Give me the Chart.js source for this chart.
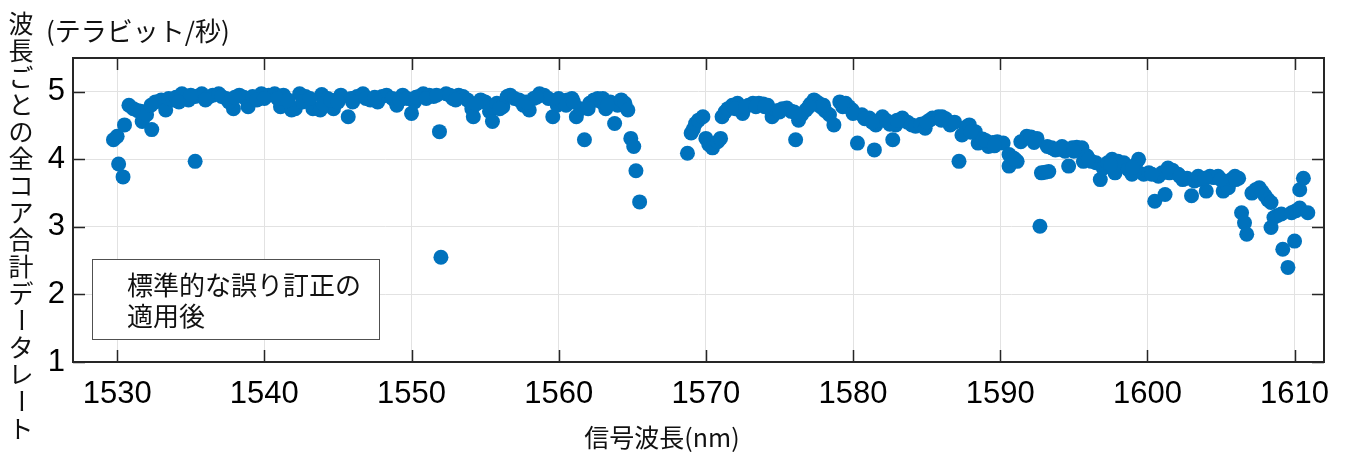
<!DOCTYPE html>
<html>
<head>
<meta charset="utf-8">
<script src="https://cdn.jsdelivr.net/npm/chart.js@4.4.1/dist/chart.umd.min.js"></script>
<style>
  html, body { margin: 0; padding: 0; background: #fff; }
  #wrap { width: 1346px; height: 453px; position: relative; }
</style>
</head>
<body>
<div id="wrap"><canvas id="rateChart"></canvas></div>
<script>
// 信号波長 (nm)
const wavelength = [
  1529.75, 1530.0, 1530.1, 1530.4, 1530.5, 1530.8, 1531.1, 1531.4, 1531.6, 1531.7,
  1532.0, 1532.35, 1532.6, 1533.0, 1533.3, 1533.5, 1533.8, 1534.0, 1534.4, 1534.85,
  1535.3, 1535.3, 1535.75, 1536.2, 1536.5, 1536.9, 1537.4, 1537.9, 1538.3, 1538.6,
  1538.9, 1539.2, 1539.8, 1540.3, 1540.7, 1541.1, 1541.3, 1541.85, 1542.1, 1542.4,
  1542.8, 1543.3, 1543.8, 1543.9, 1544.3, 1544.7, 1545.2, 1545.7, 1545.9, 1546.3,
  1546.7, 1547.2, 1547.7, 1548.0, 1548.3, 1548.7, 1549.0, 1549.4, 1550.0, 1550.2,
  1550.5, 1550.8, 1551.2, 1551.5, 1551.9, 1552.0, 1552.35, 1552.8, 1553.2, 1553.5,
  1553.8, 1554.1, 1554.2, 1554.7, 1555.0, 1555.3, 1555.5, 1555.8, 1556.2, 1556.5,
  1556.7, 1557.0, 1557.3, 1557.6, 1558.0, 1558.3, 1558.7, 1559.0, 1559.3, 1559.6,
  1559.9, 1560.3, 1560.6, 1560.9, 1561.2, 1561.5, 1561.75, 1562.1, 1562.4, 1562.65,
  1562.9, 1563.2, 1563.5, 1563.8, 1564.0, 1564.25, 1564.5, 1564.7, 1564.9, 1565.1,
  1565.25, 1565.5,
  1568.75, 1569.0, 1569.15, 1569.3, 1569.5, 1569.8, 1570.0, 1570.2, 1570.45, 1570.8,
  1571.0, 1571.1, 1571.3, 1571.5, 1571.8, 1572.15, 1572.5, 1572.9, 1573.2, 1573.6,
  1573.9, 1574.2, 1574.5, 1574.8, 1575.2, 1575.5, 1575.8, 1576.1, 1576.3, 1576.5,
  1576.8, 1577.1, 1577.35, 1577.6, 1577.8, 1578.1, 1578.4, 1578.7, 1579.1, 1579.5,
  1579.7, 1579.95, 1580.3, 1580.6, 1581.1, 1581.45, 1581.55, 1581.8, 1582.0, 1582.3,
  1582.7, 1582.9, 1583.35, 1583.7, 1584.0, 1584.25, 1584.6, 1584.9, 1585.2, 1585.4,
  1585.8, 1586.05, 1586.3, 1586.6, 1586.9, 1587.2, 1587.4, 1587.7, 1587.9, 1588.3,
  1588.5, 1588.8, 1589.2, 1589.5, 1589.8, 1590.2, 1590.6, 1590.6, 1590.9, 1591.15,
  1591.4, 1591.8, 1592.1, 1592.5, 1592.7, 1592.8, 1593.05, 1593.3, 1593.2, 1593.5,
  1593.75, 1594.2, 1594.4, 1594.65, 1594.9, 1595.2, 1595.55, 1595.65, 1595.9, 1596.2,
  1596.5, 1596.8, 1597.0, 1597.3, 1597.6, 1597.8, 1598.0, 1598.25, 1598.4, 1598.7,
  1598.95, 1599.2, 1599.4, 1599.75, 1600.1, 1600.5, 1600.75, 1601.0, 1601.2, 1601.4,
  1601.7, 1602.1, 1602.4, 1602.7, 1603.0, 1603.2, 1603.45, 1603.7, 1604.0, 1604.25,
  1604.5, 1604.8, 1605.15, 1605.5, 1605.7, 1605.95, 1606.2, 1606.4, 1606.6, 1606.75,
  1607.1, 1607.35, 1607.6, 1607.8, 1608.0, 1608.2, 1608.4, 1608.4, 1608.6, 1608.85,
  1609.1, 1609.2, 1609.55, 1609.8, 1610.0, 1610.1, 1610.35, 1610.35, 1610.6, 1610.9,
  // 帯の中の重なった点
  1532.3, 1534.2, 1535.0, 1536.0, 1537.1, 1537.6, 1538.0, 1539.5, 1540.0, 1540.9,
  1541.6, 1542.6, 1543.1, 1544.0, 1544.5, 1545.0, 1546.0, 1546.9, 1547.5, 1549.2,
  1549.7, 1550.3, 1551.0, 1551.7, 1552.6, 1553.0, 1554.4, 1556.0, 1557.8, 1558.5,
  1560.0, 1560.5, 1561.0, 1562.0, 1563.0, 1563.3,
  1572.0, 1572.7, 1573.4, 1574.0, 1575.0, 1576.0, 1577.0, 1578.0, 1579.3, 1580.0,
  1580.8, 1581.3, 1582.5, 1583.0, 1585.0, 1586.0, 1588.0, 1589.0, 1589.6, 1591.0,
  1592.3, 1594.0, 1595.0, 1596.0, 1597.5, 1599.0, 1600.3, 1601.5, 1602.2, 1603.9,
  1605.0, 1606.0
];

// 波長ごとの全コア合計データレート (テラビット/秒)
const rate = [
  4.29, 4.34, 3.93, 3.74, 4.51, 4.80, 4.75, 4.72, 4.71, 4.56,
  4.66, 4.44, 4.85, 4.88, 4.73, 4.90, 4.88, 4.92, 4.97, 4.88,
  3.97, 4.93, 4.97, 4.92, 4.95, 4.97, 4.90, 4.75, 4.95, 4.92,
  4.78, 4.93, 4.97, 4.95, 4.97, 4.78, 4.95, 4.73, 4.75, 4.97,
  4.93, 4.75, 4.73, 4.96, 4.90, 4.75, 4.95, 4.63, 4.90, 4.93,
  4.97, 4.88, 4.85, 4.93, 4.95, 4.90, 4.80, 4.95, 4.68, 4.85,
  4.93, 4.97, 4.95, 4.93, 4.41, 2.55, 4.97, 4.90, 4.95, 4.93,
  4.88, 4.75, 4.63, 4.88, 4.85, 4.71, 4.56, 4.83, 4.78, 4.93,
  4.95, 4.90, 4.88, 4.80, 4.73, 4.90, 4.97, 4.95, 4.90, 4.63,
  4.80, 4.85, 4.88, 4.90, 4.63, 4.75, 4.29, 4.83, 4.88, 4.90,
  4.85, 4.75, 4.85, 4.53, 4.80, 4.88, 4.83, 4.73, 4.31, 4.19,
  3.83, 3.37,
  4.09, 4.39, 4.45, 4.53, 4.58, 4.63, 4.31, 4.22, 4.17, 4.26,
  4.31, 4.63, 4.70, 4.75, 4.80, 4.83, 4.68, 4.80, 4.83, 4.83,
  4.82, 4.80, 4.63, 4.72, 4.75, 4.76, 4.71, 4.29, 4.58, 4.66,
  4.73, 4.82, 4.88, 4.84, 4.78, 4.72, 4.66, 4.51, 4.85, 4.83,
  4.78, 4.73, 4.24, 4.66, 4.61, 4.14, 4.51, 4.58, 4.63, 4.57,
  4.29, 4.51, 4.61, 4.55, 4.51, 4.49, 4.52, 4.46, 4.58, 4.61,
  4.63, 4.63, 4.60, 4.51, 4.55, 3.97, 4.36, 4.48, 4.51, 4.41,
  4.24, 4.30, 4.19, 4.25, 4.26, 4.24, 4.07, 3.90, 4.02, 3.97,
  4.26, 4.34, 4.33, 4.31, 3.01, 3.80, 3.81, 3.82, 4.19, 4.17,
  4.14, 4.19, 4.12, 3.90, 4.17, 4.18, 4.17, 3.97, 4.05, 3.97,
  3.95, 3.70, 3.87, 3.95, 4.00, 3.80, 3.97, 3.90, 3.95, 3.85,
  3.78, 3.92, 4.00, 3.78, 3.80, 3.38, 3.75, 3.80, 3.48, 3.87,
  3.84, 3.78, 3.70, 3.72, 3.46, 3.68, 3.75, 3.70, 3.53, 3.75,
  3.73, 3.75, 3.53, 3.58, 3.70, 3.75, 3.72, 3.21, 3.06, 2.89,
  3.50, 3.55, 3.58, 3.52, 3.46, 3.40, 3.36, 2.99, 3.14, 3.17,
  3.19, 2.67, 2.40, 3.21, 2.79, 3.24, 3.28, 3.55, 3.72, 3.21,
  // 帯の中の重なった点
  4.80, 4.85, 4.95, 4.88, 4.93, 4.85, 4.92, 4.88, 4.90, 4.90,
  4.88, 4.85, 4.90, 4.82, 4.88, 4.85, 4.85, 4.90, 4.92, 4.88,
  4.90, 4.92, 4.90, 4.95, 4.95, 4.88, 4.82, 4.75, 4.85, 4.92,
  4.90, 4.80, 4.85, 4.75, 4.90, 4.80,
  4.75, 4.78, 4.78, 4.78, 4.70, 4.70, 4.78, 4.80, 4.78, 4.68,
  4.60, 4.55, 4.52, 4.58, 4.55, 4.58, 4.40, 4.28, 4.20, 4.00,
  4.25, 4.15, 4.12, 4.00, 3.92, 3.88, 3.78, 3.80, 3.75, 3.72,
  3.70, 3.70
];

const xTicks = [1530, 1540, 1550, 1560, 1570, 1580, 1590, 1600, 1610];
const yTicks = [1, 2, 3, 4, 5];

const yTitle = '波長ごとの全コア合計データレート';
const unitLabel = '(テラビット/秒)';
const xTitle = '信号波長(nm)';
const legendLines = ['標準的な誤り訂正の', '適用後'];

const points = wavelength.map((w, i) => ({ x: w, y: rate[i] }));

const jpFont = '"Noto Sans CJK JP", "Noto Sans", sans-serif';
const numFont = '"Liberation Sans", Arial, sans-serif';

// 枠・内向き目盛り・凡例・軸ラベル
const framePlugin = {
  id: 'frame',
  afterDraw(chart) {
    const ctx = chart.ctx;
    const a = chart.chartArea;
    const xs = chart.scales.x, ys = chart.scales.y;
    ctx.save();

    ctx.strokeStyle = '#262626';
    ctx.lineWidth = 1.5;
    ctx.beginPath();
    xTicks.forEach(v => {
      const px = Math.round(xs.getPixelForValue(v)) + 0.5;
      ctx.moveTo(px, a.bottom); ctx.lineTo(px, a.bottom - 12);
      ctx.moveTo(px, a.top); ctx.lineTo(px, a.top + 12);
    });
    yTicks.forEach(v => {
      const py = Math.round(ys.getPixelForValue(v)) + 0.5;
      ctx.moveTo(a.left, py); ctx.lineTo(a.left + 12, py);
      ctx.moveTo(a.right, py); ctx.lineTo(a.right - 12, py);
    });
    ctx.stroke();

    ctx.lineWidth = 2;
    ctx.strokeRect(a.left, a.top, a.right - a.left, a.bottom - a.top);

    // 凡例
    ctx.fillStyle = '#fff';
    ctx.fillRect(92, 259, 287, 80);
    ctx.strokeStyle = '#505050';
    ctx.lineWidth = 1;
    ctx.strokeRect(92.5, 259.5, 287, 80);
    ctx.fillStyle = '#111';
    ctx.font = '26px ' + jpFont;
    ctx.textAlign = 'left';
    ctx.textBaseline = 'middle';
    legendLines.forEach((t, i) => ctx.fillText(t, 127, 285 + i * 31));

    // 単位
    ctx.font = '26px ' + jpFont;
    ctx.fillText(unitLabel, 46, 31);

    // x 軸タイトル
    ctx.font = '25px ' + jpFont;
    ctx.textAlign = 'center';
    ctx.fillText(xTitle, 662, 437);

    // y 軸タイトル (縦書き)
    ctx.font = '25px ' + jpFont;
    Array.from(yTitle).forEach((ch, i) => {
      const cy = 23 + i * 27;
      if (ch === 'ー') {
        ctx.save();
        ctx.translate(21, cy);
        ctx.rotate(Math.PI / 2);
        ctx.fillText(ch, 0, 0);
        ctx.restore();
      } else {
        ctx.fillText(ch, 21, cy);
      }
    });

    ctx.restore();
  }
};

new Chart(document.getElementById('rateChart'), {
  type: 'scatter',
  data: {
    datasets: [{
      label: legendLines.join(''),
      data: points,
      backgroundColor: 'rgb(0,114,189)',
      borderWidth: 0,
      pointRadius: 7.5,
      pointHoverRadius: 7.5
    }]
  },
  options: {
    responsive: true,
    maintainAspectRatio: false,
    animation: false,
    layout: { padding: { left: 0, top: 58, right: 22, bottom: 0 } },
    plugins: { legend: { display: false }, tooltip: { enabled: false } },
    scales: {
      x: {
        type: 'linear',
        min: 1527,
        max: 1612,
        afterBuildTicks: s => { s.ticks = xTicks.map(v => ({ value: v })); },
        afterFit: s => { s.height = 91; },
        grid: { color: '#e2e2e2', drawTicks: false },
        border: { display: false },
        ticks: { padding: 14, color: '#000', font: { family: numFont, size: 31 }, callback: v => String(v) }
      },
      y: {
        min: 1,
        max: 5.5,
        afterBuildTicks: s => { s.ticks = yTicks.map(v => ({ value: v })); },
        afterFit: s => { s.width = 73; },
        grid: { color: '#e2e2e2', drawTicks: false },
        border: { display: false },
        ticks: { padding: 8, color: '#000', font: { family: numFont, size: 31 }, callback: v => String(v) }
      }
    }
  },
  plugins: [framePlugin]
});
</script>
</body>
</html>
